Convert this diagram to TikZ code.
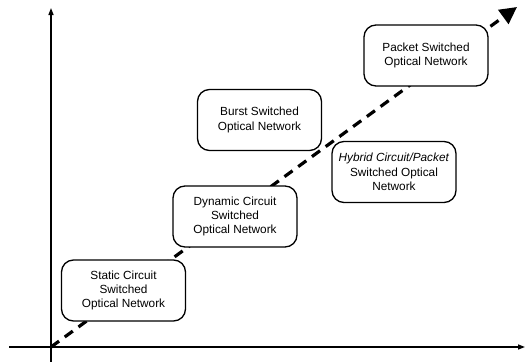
\documentclass[tikz,border=0pt]{standalone}
\usepackage{fontspec}
\setmainfont{Liberation Sans}
\usetikzlibrary{arrows.meta}
\tikzset{
  netbox/.style={draw=black, line width=1.3pt, fill=white, rounded corners=12pt,
    minimum width=124pt, minimum height=61pt, align=center, inner sep=2pt,
    font=\fontsize{11.8pt}{14.3pt}\selectfont},
  axisline/.style={line width=1.3pt, -{Triangle[length=7pt,width=5pt]}},
  evol/.style={line width=3.2pt, dash pattern=on 10pt off 7pt,
    -{Triangle[length=17pt,width=17pt]}}
}
\begin{document}
\begin{tikzpicture}[x=1pt,y=-1pt]
\useasboundingbox (0,0) rectangle (531,362);
\coordinate (o) at (51,347);
\coordinate (ybot) at (51,362);
\coordinate (ytop) at (51,8);
\coordinate (xleft) at (9,347);
\coordinate (xright) at (525,347);
\coordinate (tip) at (517,7);
\draw[axisline] (ybot) -- (ytop);
\draw[axisline] (xleft) -- (xright);
\draw[evol] (o) -- (tip);
\node[netbox] (static) at (123.5,290.5) {Static Circuit\\Switched\\Optical Network};
\node[netbox] (dynamic) at (235,216.5) {Dynamic Circuit\\Switched\\Optical Network};
\node[netbox] (burst) at (259.5,120) {Burst Switched\\Optical Network};
\node[netbox] (hybrid) at (394,172) {\textit{Hybrid Circuit/Packet}\\Switched Optical\\Network};
\node[netbox] (packet) at (426,55.5) {Packet Switched\\Optical Network};
\end{tikzpicture}
\end{document}
